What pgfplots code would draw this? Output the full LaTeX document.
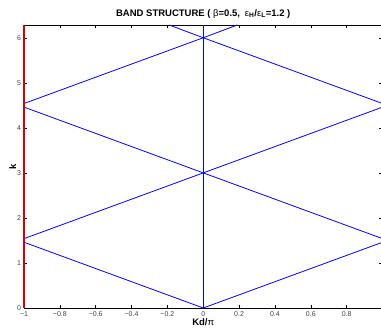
\documentclass[border=0pt]{standalone}
\usepackage{fontspec}
\setmainfont{Liberation Sans}
\usepackage{pgfplots}
\pgfplotsset{compat=1.18}

\begin{document}
\begin{tikzpicture}[x=1pt,y=1pt]
\begin{axis}[
    at={(24pt,25pt)}, anchor=south west,
    scale only axis,
    width=358.5pt, height=283pt,
    xmin=-1, xmax=1,
    ymin=0, ymax=6.2832,
    xtick={-1,-0.8,-0.6,-0.4,-0.2,0,0.2,0.4,0.6,0.8,1},
    xticklabels={−1,−0.8,−0.6,−0.4,−0.2,0,0.2,0.4,0.6,0.8,},
    ytick={0,1,...,6},
    tick align=inside,
    major tick length=3pt,
    xticklabel style={font=\fontsize{7}{8}\selectfont, color=black!75, yshift=-0.5pt},
    yticklabel style={font=\fontsize{7}{8}\selectfont, color=black!75, xshift=0.5pt},
    /pgf/number format/assume math mode=true,
    axis line style={line width=0.7pt},
    tick style={line width=0.5pt, black},
    title={\textbf{BAND STRUCTURE ( {\mdseries β}=0.5,\enspace{\mdseries ε}\textsubscript{H}/{\mdseries ε}\textsubscript{L}=1.2 )}},
    title style={font=\fontsize{9.5}{11}\selectfont, yshift=-3pt},
    xlabel={\textbf{Kd/{\mdseries π}}},
    ylabel={\textbf{k}},
    label style={font=\fontsize{9.5}{11}\selectfont},
    xlabel style={yshift=5pt},
    ylabel style={yshift=-6pt},
    clip=false,
]
\addplot[blue, line width=0.8pt] coordinates {(-1,1.46) (0,0) (1,1.46)};
\addplot[blue, line width=0.8pt] coordinates {(-1,1.54) (0,3) (1,1.54)};
\addplot[blue, line width=0.8pt] coordinates {(-1,4.46) (0,3) (1,4.46)};
\addplot[blue, line width=0.8pt] coordinates {(-1,4.54) (0,6) (1,4.54)};
\addplot[blue, line width=0.8pt] coordinates {(-0.19,6.2832) (0,6) (0.19,6.2832)};
\addplot[blue, line width=0.8pt] coordinates {(0,0) (0,6.2832)};
\addplot[red!85!black, line width=1.6pt] coordinates {(-1,0) (-1,6.2832)};
\end{axis}
\pgfresetboundingbox
\path[use as bounding box] (0,0) rectangle (381,333);
\end{tikzpicture}
\end{document}
